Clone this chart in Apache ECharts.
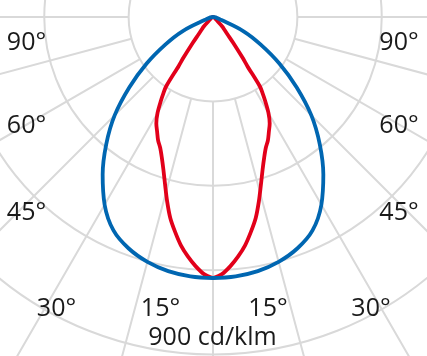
<!DOCTYPE html>
<html>
<head>
<meta charset="utf-8">
<script src="https://cdn.jsdelivr.net/npm/echarts@6/dist/echarts.min.js"></script>
<style>
html,body{margin:0;padding:0;background:#fff;}
#c{width:427px;height:356px;}
</style>
</head>
<body>
<div id="c"></div>
<script>
// Gamma angles (deg from nadir) and luminous intensity (cd/klm)
const blueAngles = [0,5,10,15,20,25,30,35,40,45,50,55,60,65,70,75];
const blueValues = [696,694,688,676,657,628,578,513,443,371,291,216,147,90,24,0];
const redAngles  = [0,2,4,6,8,10,12,14,16,18,20,22,24,26,28,30,32,33,34,35,36,38,40,42,44,46,48];
const redValues  = [696,686,666,642,615,582,548,506,464,428,399,376,360,340,322,296,261,243,225,160,133,88,59,45,37,21,0];
// Grid: radius ticks (cd/klm) and angle ticks (deg)
const ringStep = 225;
const ringMin = 225;
const ringMax = 1125;
const spokeStep = 15;
const tickLabels = ['90°','60°','45°','30°','15°'];
const scaleLabel = '900 cd/klm';

// layout (pixels)
const cx = 213, cy = 17;
const pxPerUnit = 337.5 / 900;
const labelLeftX  = [26.5, 26.5, 26.5, 56.5, 160.5];
const labelRightX = [399, 399, 399, 371, 268];
const labelBaseY  = [52, 135, 222, 318, 318];

function curve(angles, values) {
  const pts = [];
  for (let i = 0; i < angles.length; i++) pts.push([values[i], angles[i]]);
  for (let i = angles.length - 1; i >= 0; i--) pts.push([values[i], 360 - angles[i]]);
  return pts;
}

const grey = '#d9d9d9';
const font = '25px "Open Sans"';
const graphics = [];
for (let i = 0; i < tickLabels.length; i++) {
  [labelLeftX[i], labelRightX[i]].forEach(x => {
    graphics.push({type:'text', z:100, style:{text:tickLabels[i], x:x, y:labelBaseY[i] - 9,
      font:font, fill:'#1a1a1a', textAlign:'center', textVerticalAlign:'middle', verticalAlign:'middle'}});
  });
}
graphics.push({type:'text', z:100, style:{text:scaleLabel, x:212.5, y:338,
  font:font, fill:'#1a1a1a', textAlign:'center', textVerticalAlign:'middle', verticalAlign:'middle'}});

const chart = echarts.init(document.getElementById('c'), null, {renderer:'canvas'});
chart.setOption({
  backgroundColor:'#fff',
  animation:false,
  polar:[
    {center:[cx, cy], radius:[ringMin*pxPerUnit, ringMax*pxPerUnit]},
    {center:[cx, cy], radius:[0, ringMax*pxPerUnit]}
  ],
  angleAxis:[
    {polarIndex:0, type:'value', min:0, max:360, interval:spokeStep, startAngle:270, clockwise:true,
     axisLine:{show:false}, axisTick:{show:false}, axisLabel:{show:false},
     splitLine:{show:true, lineStyle:{color:grey, width:2}}},
    {polarIndex:1, type:'value', min:0, max:360, startAngle:270, clockwise:true,
     axisLine:{show:false}, axisTick:{show:false}, axisLabel:{show:false}, splitLine:{show:false}}
  ],
  radiusAxis:[
    {polarIndex:0, type:'value', min:ringMin, max:ringMax, interval:ringStep,
     axisLine:{show:false}, axisTick:{show:false}, axisLabel:{show:false},
     splitLine:{show:true, lineStyle:{color:grey, width:2}}},
    {polarIndex:1, type:'value', min:0, max:ringMax,
     axisLine:{show:false}, axisTick:{show:false}, axisLabel:{show:false}, splitLine:{show:false}}
  ],
  series:[
    {type:'line', coordinateSystem:'polar', polarIndex:1, data:curve(redAngles, redValues),
     showSymbol:false, symbol:'none', smooth:0.3, z:3,
     lineStyle:{color:'#e2001a', width:3.8, join:'round', cap:'round'}},
    {type:'line', coordinateSystem:'polar', polarIndex:1, data:curve(blueAngles, blueValues),
     showSymbol:false, symbol:'none', smooth:0.4, z:4,
     lineStyle:{color:'#0066b1', width:3.8, join:'round', cap:'round'}}
  ],
  graphic:graphics
});
</script>
</body>
</html>
